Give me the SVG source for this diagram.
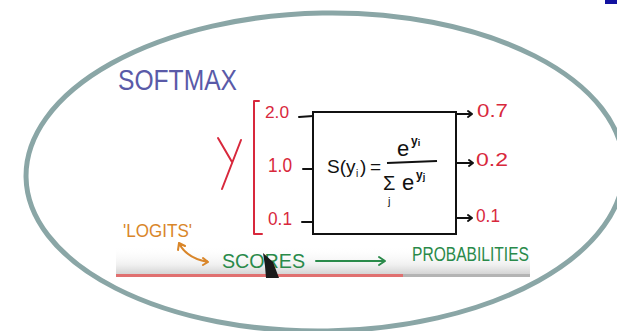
<svg xmlns="http://www.w3.org/2000/svg" width="617" height="331" viewBox="0 0 617 331">
<style>
.hand{font-family:"Liberation Sans","DejaVu Sans",sans-serif;}
.red{fill:#d8283c;}
.blk{fill:#111;}
.rl{stroke:#d8283c;stroke-width:2;fill:none;stroke-linecap:round;stroke-linejoin:round;}
.bl{stroke:#111;stroke-width:2;fill:none;stroke-linecap:round;stroke-linejoin:round;}
.gl{stroke:#2a8a4a;stroke-width:2;fill:none;stroke-linecap:round;stroke-linejoin:round;}
.ol{stroke:#d9862a;stroke-width:2;fill:none;stroke-linecap:round;stroke-linejoin:round;}
</style>
<defs>
<linearGradient id="bar" x1="0" y1="0" x2="0" y2="1">
<stop offset="0" stop-color="#ffffff" stop-opacity="0"/>
<stop offset="0.65" stop-color="#f0f0f0"/>
<stop offset="1" stop-color="#d2d2d2"/>
</linearGradient>
</defs>
<rect width="617" height="331" fill="#fff"/>
<g id="video-bar">
<rect x="116" y="246" width="414" height="29" fill="url(#bar)"/>
<rect x="116" y="274" width="287" height="3" fill="#e07070"/>
<rect x="403" y="274" width="127" height="3" fill="#b4b4b4"/>
</g>
<g id="title"><text class="hand" x="118" y="90" font-size="30" fill="#5a5aa8" textLength="119" lengthAdjust="spacingAndGlyphs">SOFTMAX</text></g>
<g id="y-bracket">
<path class="rl" d="M218,138 L232,162 M241,140 L222,189"/>
<path class="rl" d="M259,101 L254,101 L254,234 L262,234"/>
</g>
<g id="inputs">
<text class="hand red" x="265" y="118" font-size="16" textLength="24" lengthAdjust="spacingAndGlyphs">2.0</text>
<text class="hand red" x="268" y="172" font-size="21" textLength="24" lengthAdjust="spacingAndGlyphs">1.0</text>
<text class="hand red" x="268" y="225" font-size="19" textLength="24" lengthAdjust="spacingAndGlyphs">0.1</text>
</g>
<g id="softmax-box">
<rect x="313" y="112" width="143" height="122" fill="none" stroke="#111" stroke-width="2"/>
<text class="hand blk" x="327" y="173" font-size="19">S(y</text>
<text class="hand blk" x="356" y="177" font-size="10">i</text>
<text class="hand blk" x="360" y="173" font-size="19">)</text>
<text class="hand blk" x="370" y="173" font-size="19">=</text>
<line x1="387" y1="163" x2="437" y2="161" stroke="#111" stroke-width="2"/>
<text class="hand blk" x="397" y="156" font-size="22">e</text>
<text class="hand blk" x="411" y="145" font-size="12" font-weight="bold">y<tspan font-size="9" dy="1">i</tspan></text>
<text class="hand blk" x="383" y="190" font-size="20">Σ</text>
<text class="hand blk" x="388" y="205" font-size="11">j</text>
<text class="hand blk" x="402" y="190" font-size="22">e</text>
<text class="hand blk" x="416" y="179" font-size="12" font-weight="bold">y<tspan font-size="9" dy="1">j</tspan></text>
</g>
<g id="outputs">
<text class="hand red" x="477" y="117" font-size="19" textLength="31" lengthAdjust="spacingAndGlyphs">0.7</text>
<text class="hand red" x="476" y="166" font-size="19" textLength="32" lengthAdjust="spacingAndGlyphs">0.2</text>
<text class="hand red" x="476" y="222" font-size="19" textLength="24" lengthAdjust="spacingAndGlyphs">0.1</text>
</g>
<g id="logits"><text class="hand" x="123" y="237" font-size="19" fill="#d9862a" textLength="69" lengthAdjust="spacingAndGlyphs">'LOGITS'</text></g>
<g id="scores"><text class="hand" x="222" y="268" font-size="21" fill="#2a8a4a" textLength="83" lengthAdjust="spacingAndGlyphs">SCORES</text></g>
<g id="probabilities"><text class="hand" x="412" y="261" font-size="20" fill="#2a8a4a" textLength="117" lengthAdjust="spacingAndGlyphs">PROBABILITIES</text></g>
<g id="connectors">
<path class="bl" d="M299,117 L313,116 M303,169 L313,169 M302,222 L313,222"/>
<path class="bl" d="M456,114 L472,114 M468,111 L472,114 L468,117"/>
<path class="bl" d="M457,163 L473,163 M469,160 L473,163 L469,166"/>
<path class="bl" d="M457,218 L472,218 M468,215 L472,218 L468,221"/>
<path class="gl" d="M316,261 L384,261 M379,257 L385,261 L379,265"/>
<path class="ol" d="M179,243 Q186,258 208,262 M179,243 L178,250 M179,243 L185,246 M208,262 L203,258 M208,262 L203,265"/>
</g>
<path d="M263,253 L273,262 L279,278 L266,278 L265,266 Z" fill="#1a1a1a"/>
<ellipse cx="325" cy="172" rx="299" ry="159" fill="none" stroke="#8aa6a6" stroke-width="5" transform="rotate(-1 325 172)"/>
<rect x="605" y="0" width="12" height="4" fill="#1212a0"/>
</svg>
